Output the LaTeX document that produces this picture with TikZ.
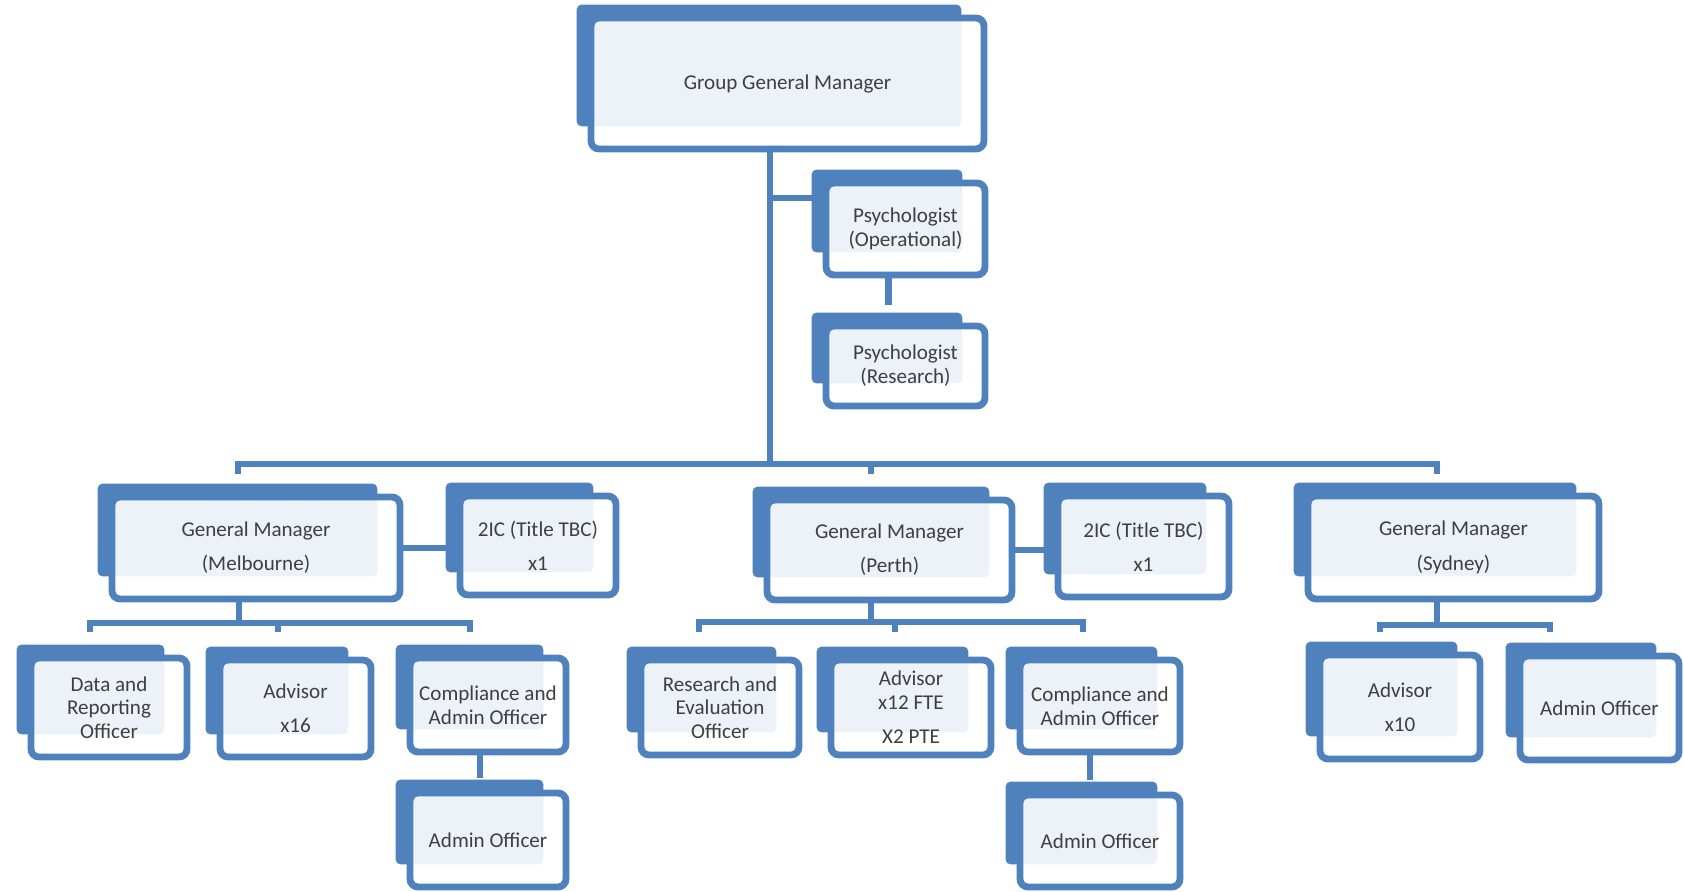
\documentclass[tikz,border=0pt]{standalone}
\usepackage{fontspec}
\setmainfont{Carlito}
\usepackage{tikz}
\usetikzlibrary{calc, backgrounds}
\definecolor{orgblue}{HTML}{4F81BD}
\definecolor{orgtext}{HTML}{3F3F3F}

\tikzset{
  post/.style={draw=orgblue, line width=3.9pt, rounded corners=0.16cm,
    fill=white, fill opacity=0.9, draw opacity=1, text opacity=1,
    text=orgtext, align=center, inner sep=1pt,
    font=\fontsize{12}{13.5}\selectfont},
  link/.style={draw=orgblue, line width=3.9pt},
}

\begin{document}
\begin{tikzpicture}[x=0.02cm, y=-0.02cm]
  \useasboundingbox (0,0) rectangle (1684,892);

  % top
  \node[post, minimum width=7.86cm, minimum height=2.62cm] (ggm) at (787.5,83.5) {Group General Manager};
  \node[post, minimum width=3.18cm, minimum height=1.84cm] (psyop) at (905.5,229) {Psychologist\\(Operational)};
  \node[post, minimum width=3.18cm, minimum height=1.60cm] (psyres) at (905.5,366) {Psychologist\\(Research)};

  % Melbourne
  \node[post, minimum width=5.76cm, minimum height=2.04cm] (gmmel) at (256,548) {General Manager\\[6pt](Melbourne)};
  \node[post, minimum width=3.12cm, minimum height=1.98cm] (icmel) at (538,545.5) {2IC (Title TBC)\\[6pt]x1};
  \node[post, minimum width=3.12cm, minimum height=1.98cm] (dro) at (109,707.5) {Data and\\Reporting\\Officer};
  \node[post, minimum width=3.02cm, minimum height=1.94cm] (advmel) at (295.5,708.5) {Advisor\\[6pt]x16};
  \node[post, minimum width=3.12cm, minimum height=1.88cm] (camel) at (488,705) {Compliance and\\Admin Officer};
  \node[post, minimum width=3.12cm, minimum height=1.88cm] (admmel) at (488,840) {Admin Officer};

  % Perth
  \node[post, minimum width=4.90cm, minimum height=2.00cm] (gmper) at (889.5,550) {General Manager\\[6pt](Perth)};
  \node[post, minimum width=3.42cm, minimum height=2.02cm] (icper) at (1143.5,546.5) {2IC (Title TBC)\\[6pt]x1};
  \node[post, minimum width=3.16cm, minimum height=1.90cm] (reo) at (720,707.5) {Research and\\Evaluation\\Officer};
  \node[post, minimum width=3.20cm, minimum height=1.90cm] (advper) at (911,707.5) {Advisor\\x12 FTE\\[6pt]X2 PTE};
  \node[post, minimum width=3.20cm, minimum height=1.84cm] (caper) at (1100,706) {Compliance and\\Admin Officer};
  \node[post, minimum width=3.20cm, minimum height=1.84cm] (admper) at (1100,841) {Admin Officer};

  % Sydney
  \node[post, minimum width=5.82cm, minimum height=2.06cm] (gmsyd) at (1453.5,547.5) {General Manager\\[6pt](Sydney)};
  \node[post, minimum width=3.20cm, minimum height=2.08cm] (advsyd) at (1400,707) {Advisor\\[6pt]x10};
  \node[post, minimum width=3.18cm, minimum height=2.08cm] (admsyd) at (1599.5,708) {Admin Officer};

  % shadow boxes
  \begin{scope}[on background layer]
    \foreach \n in {ggm,psyop,psyres,gmmel,icmel,dro,advmel,camel,admmel,
                    gmper,icper,reo,advper,caper,admper,gmsyd,advsyd,admsyd}{
      \fill[orgblue, rounded corners=0.1cm] ($(\n.north west)+(-11,-10)$) rectangle ($(\n.south east)+(-26,-26)$);
    }
  \end{scope}

  % connectors
  \coordinate (topbus) at (770,464);
  \coordinate (psybr) at (770,198);
  \draw[link] (ggm.south -| topbus) -- (topbus);
  \draw[link] (psybr) -- (psyop.west |- psybr);
  \draw[link] ($(psyop.south)+(-17,0)$) -- ($(psyres.north)+(-17,-18)$);
  \draw[link] (238,474) |- (1437,464) -- (1437,474);
  \draw[link] (871,464) -- (871,474);

  \coordinate (melbus) at (239,623);
  \draw[link] (gmmel.south -| melbus) -- (melbus);
  \draw[link] (90,632) |- (470,623) -- (470,632);
  \draw[link] (278,623) -- (278,632);
  \draw[link] (gmmel.east) -- (icmel.west |- gmmel.east);
  \draw[link] ($(camel.south)+(-8,0)$) -- ($(admmel.north)+(-8,-12)$);

  \coordinate (perbus) at (871,622);
  \draw[link] (gmper.south -| perbus) -- (perbus);
  \draw[link] (699,632) |- (1083,622) -- (1083,632);
  \draw[link] (895,622) -- (895,632);
  \draw[link] (gmper.east) -- (icper.west |- gmper.east);
  \draw[link] ($(caper.south)+(-10,0)$) -- ($(admper.north)+(-10,-12)$);

  \coordinate (sydbus) at (1437,625);
  \draw[link] (gmsyd.south -| sydbus) -- (sydbus);
  \draw[link] (1380,632) |- (1550,625) -- (1550,632);
\end{tikzpicture}
\end{document}
